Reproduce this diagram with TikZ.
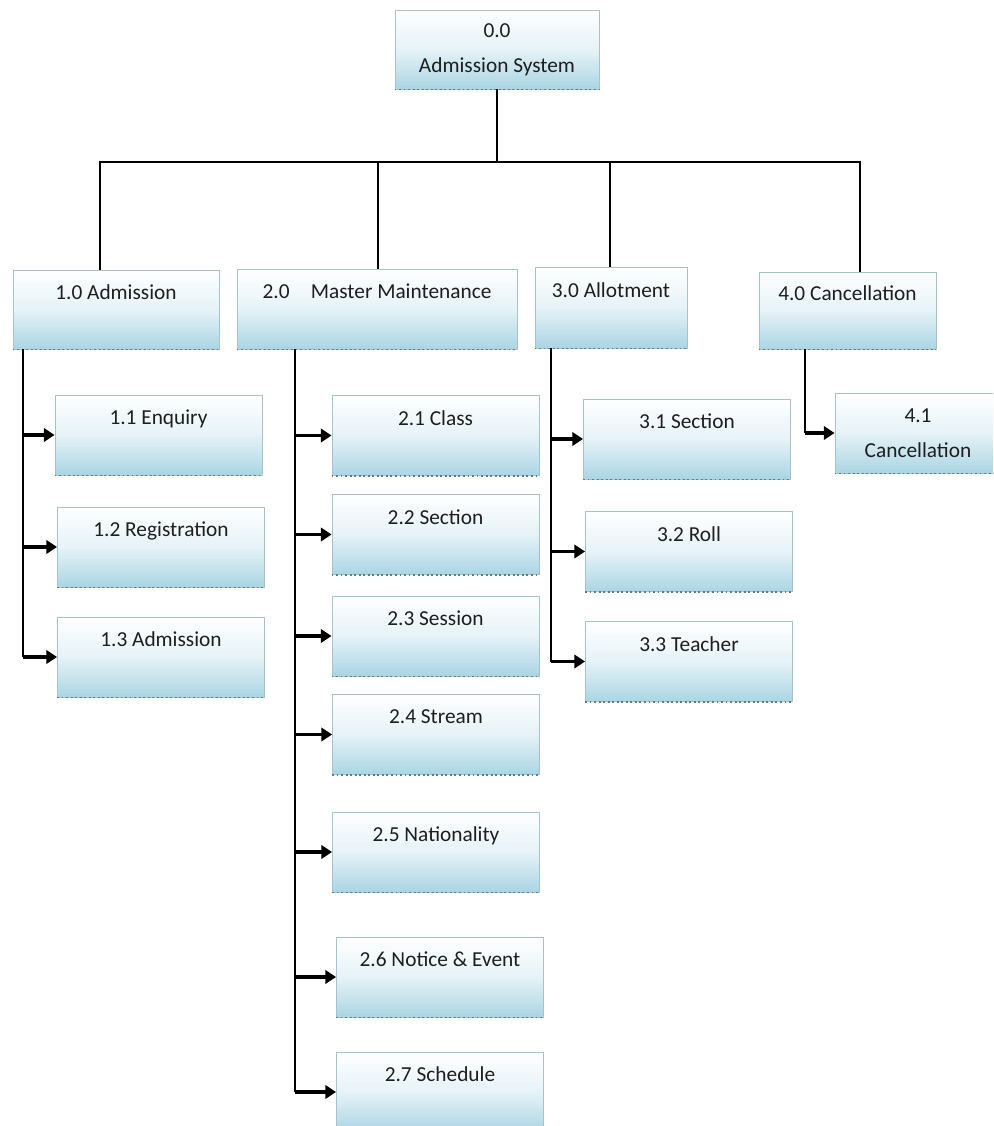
\documentclass[tikz,border=0pt]{standalone}
\usepackage{fontspec}
\setmainfont{Carlito}
\usetikzlibrary{arrows.meta}
\definecolor{boxblue}{RGB}{170,213,228}
\definecolor{boxline}{RGB}{168,194,202}
\definecolor{boxdots}{RGB}{95,125,135}
\definecolor{boxtext}{RGB}{30,30,30}
\begin{document}
\begin{tikzpicture}[x=0.75pt, y=-0.75pt, line width=1.5pt,
    box/.style={draw=boxline, line width=0.7pt, top color=white, bottom color=boxblue,
      middle color=boxblue!30, minimum width=155.25pt, minimum height=60pt, inner sep=0pt,
      align=center, text=boxtext, font=\fontsize{16}{26.25}\selectfont},
    link/.style={line width=1.5pt},
    arrow/.style={line width=2.4pt, -{Triangle[length=8pt, width=10pt]}},
    dotline/.style={boxdots, line width=1.4pt, dotted}]
  \useasboundingbox (0,0) rectangle (993,1126);
  \clip (0,0) rectangle (993,1126);
  \fill[white] (0,0) rectangle (993,1126);

  \node[box, minimum width=153pt, minimum height=59.25pt] (a00) at (497,49.5) {0.0\\Admission System};

  \node[box, minimum width=154.5pt, minimum height=59.25pt] (a10) at (116,309.5) {1.0 Admission\\\mbox{}};
  \node[box, minimum width=210pt] (a20) at (377,309) {2.0\quad Master Maintenance\\\mbox{}};
  \node[box, minimum width=114pt, minimum height=60.75pt] (a30) at (611,307.5) {3.0 Allotment\\\mbox{}};
  \node[box, minimum width=132.75pt, minimum height=57.75pt] (a40) at (847.5,310.5) {4.0 Cancellation\\\mbox{}};

  \node[box] (a11) at (158.5,435) {1.1 Enquiry\\\mbox{}};
  \node[box] (a12) at (161,547) {1.2 Registration\\\mbox{}};
  \node[box] (a13) at (161,657) {1.3 Admission\\\mbox{}};

  \node[box] (a21) at (435.5,435.5) {2.1 Class\\\mbox{}};
  \node[box] (a22) at (435.5,534.5) {2.2 Section\\\mbox{}};
  \node[box] (a23) at (435.5,636) {2.3 Session\\\mbox{}};
  \node[box] (a24) at (436,734.5) {2.4 Stream\\\mbox{}};
  \node[box] (a25) at (436,852) {2.5 Nationality\\\mbox{}};
  \node[box] (a26) at (440,977) {2.6 Notice \& Event\\\mbox{}};
  \node[box] (a27) at (440,1092) {2.7 Schedule\\\mbox{}};

  \node[box] (a31) at (687,439) {3.1 Section\\\mbox{}};
  \node[box] (a32) at (689,551.5) {3.2 Roll\\\mbox{}};
  \node[box] (a33) at (689,661.5) {3.3 Teacher\\\mbox{}};

  \node[box, minimum width=124.5pt] (a41) at (918,433) {4.1\\Cancellation};

  \foreach \n in {a00,a10,a20,a30,a40,a11,a12,a13,a21,a22,a23,a24,a25,a26,a27,a31,a32,a33,a41}
    \draw[dotline] (\n.south west) -- (\n.south east);

  \coordinate (bus) at (a00.south |- 0,162);
  \coordinate (d10) at (100,0 |- a10.north);
  \coordinate (d20) at (378,0 |- a20.north);
  \coordinate (d30) at (610,0 |- a30.north);
  \coordinate (d40) at (860,0 |- a40.north);
  \draw[link] (a00) -- (bus);
  \draw[link] (d10) |- (bus) -| (d40);
  \draw[link] (d20) -- (d20 |- bus);
  \draw[link] (d30) -- (d30 |- bus);

  \coordinate (t1) at (23,0 |- a10.south);
  \coordinate (t2) at (295,0 |- a20.south);
  \coordinate (t3) at (551,0 |- a30.south);
  \coordinate (t4) at (805,0 |- a40.south);
  \draw[link] (t1) -- (t1 |- a13);
  \draw[link] (t2) -- (t2 |- a27);
  \draw[link] (t3) -- (t3 |- a33);
  \draw[link] (t4) -- (t4 |- a41);
  \foreach \n in {a11,a12,a13}
    \draw[arrow] (t1 |- \n) -- (\n);
  \foreach \n in {a21,a22,a23,a24,a25,a26,a27}
    \draw[arrow] (t2 |- \n) -- (\n);
  \foreach \n in {a31,a32,a33}
    \draw[arrow] (t3 |- \n) -- (\n);
  \draw[arrow] (t4 |- a41) -- (a41);
\end{tikzpicture}
\end{document}
